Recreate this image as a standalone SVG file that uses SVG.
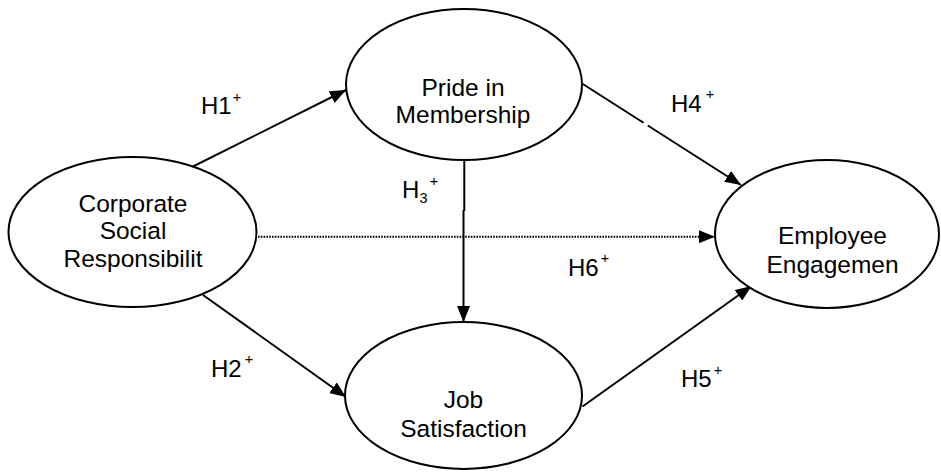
<svg xmlns="http://www.w3.org/2000/svg" width="941" height="472" viewBox="0 0 941 472">
<style>
.node{fill:#fff;stroke:#000;stroke-width:2}
.nt{font-family:"Liberation Sans",Arial,sans-serif;font-size:24.5px;fill:#000;text-anchor:middle}
.lb{font-family:"Liberation Sans",Arial,sans-serif;font-size:24px;fill:#000}
.sp{font-size:14.5px}
.ln{stroke:#000;stroke-width:2;fill:none}
</style>
<defs>
<marker id="ah" markerUnits="userSpaceOnUse" markerWidth="16" markerHeight="13" refX="16" refY="6.5" orient="auto">
<path d="M0,0 L16,6.5 L0,13 z" fill="#000"/>
</marker>
</defs>
<rect width="941" height="472" fill="#fff"/>
<g id="connectors">
<line class="ln" x1="192" y1="167" x2="346" y2="90" marker-end="url(#ah)"/>
<line class="ln" x1="203" y1="295" x2="346" y2="397" marker-end="url(#ah)"/>
<line class="ln" x1="582" y1="83.5" x2="741" y2="185" stroke-dasharray="73 5 300" marker-end="url(#ah)"/>
<line class="ln" x1="258" y1="236.7" x2="715" y2="236.7" stroke-width="1.3" stroke-dasharray="1.6 1.2" marker-end="url(#ah)"/>
<line class="ln" x1="582.5" y1="406.5" x2="751.5" y2="286" marker-end="url(#ah)"/>
<line class="ln" x1="464.3" y1="160" x2="464.3" y2="211" stroke-width="1"/>
<line class="ln" x1="463.5" y1="210" x2="463.5" y2="322" marker-end="url(#ah)"/>
</g>
<g id="csr">
<ellipse class="node" cx="132.5" cy="232" rx="124" ry="75"/>
<text class="nt" x="133" y="212">Corporate</text>
<text class="nt" x="133" y="239">Social</text>
<text class="nt" x="133" y="267">Responsibilit</text>
</g>
<g id="pride">
<ellipse class="node" cx="464" cy="84.5" rx="118" ry="75.5"/>
<text class="nt" x="463" y="96">Pride in</text>
<text class="nt" x="463" y="123">Membership</text>
</g>
<g id="job">
<ellipse class="node" cx="463.5" cy="395.5" rx="118.5" ry="73.5"/>
<text class="nt" x="463.5" y="408">Job</text>
<text class="nt" x="463.5" y="436.5">Satisfaction</text>
</g>
<g id="engagement">
<ellipse class="node" cx="827" cy="234" rx="112" ry="74"/>
<text class="nt" x="832.5" y="243.5">Employee</text>
<text class="nt" x="832.5" y="272.5">Engagemen</text>
</g>
<g id="labels">
<text class="lb" x="201" y="114">H1<tspan class="sp" x="232.8" y="102">+</tspan></text>
<text class="lb" x="211" y="377">H2<tspan class="sp" x="244.8" y="363.5">+</tspan></text>
<text class="lb" x="402" y="198">H<tspan class="sp" x="419.5" y="203">3</tspan><tspan class="sp" x="429.8" y="185.5">+</tspan></text>
<text class="lb" x="671" y="111.7">H4<tspan class="sp" x="705.8" y="98.5">+</tspan></text>
<text class="lb" x="681" y="387">H5<tspan class="sp" x="713.8" y="374.5">+</tspan></text>
<text class="lb" x="568" y="276">H6<tspan class="sp" x="600.8" y="262.5">+</tspan></text>
</g>
</svg>
